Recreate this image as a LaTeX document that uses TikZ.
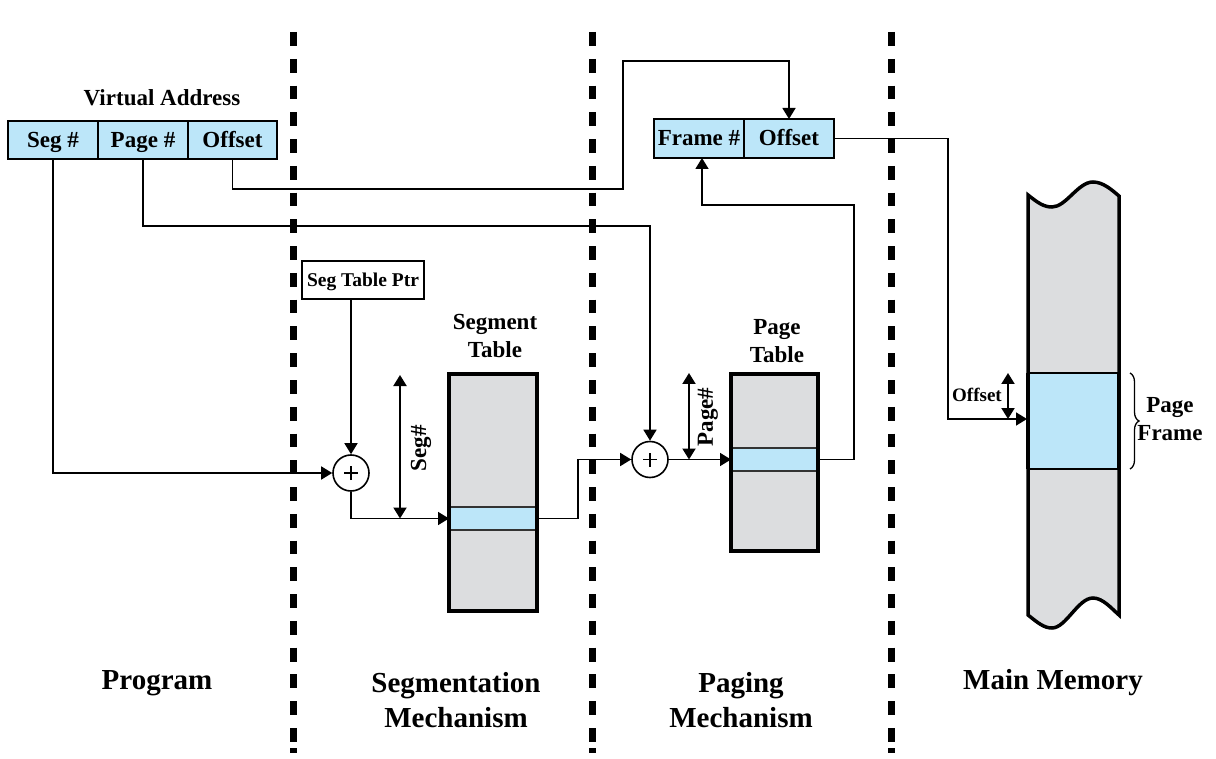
\documentclass[tikz,border=0pt]{standalone}
\usepackage{fontspec}
\setmainfont{Liberation Serif}
\usetikzlibrary{arrows.meta,decorations.pathreplacing,calc}
\definecolor{lblue}{RGB}{188,230,249}
\definecolor{lgrey}{RGB}{220,221,223}
\begin{document}
\begin{tikzpicture}[x=1pt,y=-1pt,
  fld/.style={draw, line width=1.5pt, fill=lblue, minimum height=38pt, inner sep=0pt, outer sep=0pt, text height=20pt, text depth=5pt, font=\fontsize{23}{27}\selectfont\bfseries},
  tab/.style={fill=lgrey, inner sep=0pt, outer sep=0pt},
  rowbox/.style={draw=black!80, line width=1.5pt, fill=lblue, inner sep=0pt, outer sep=0pt},
  lbl/.style={font=\fontsize{23}{28}\selectfont\bfseries, align=center, inner sep=0pt},
  small/.style={font=\fontsize{19}{22}\selectfont\bfseries, inner sep=0pt},
  big/.style={font=\fontsize{29}{35}\selectfont\bfseries, align=center, inner sep=0pt},
  conn/.style={line width=1.6pt},
  arr/.style={conn, -{Triangle[length=11pt,width=13pt]}},
  dbl/.style={line width=2pt, {Triangle[length=11pt,width=13pt]}-{Triangle[length=11pt,width=13pt]}},
  sep/.style={line width=7pt, dash pattern=on 13.8pt off 12.97pt},
  adder/.style={circle, draw, line width=1.6pt, minimum size=36pt, inner sep=0pt, fill=white,
    path picture={\draw[line width=1.6pt] ([xshift=-7pt]path picture bounding box.center) -- ([xshift=7pt]path picture bounding box.center);
                  \draw[line width=1.6pt] ([yshift=-7pt]path picture bounding box.center) -- ([yshift=7pt]path picture bounding box.center);}}
]
\useasboundingbox (0,0) rectangle (1216,759);

% separators
\foreach \x/\n in {293/1,592/2,891/3}{
  \coordinate (d\n a) at (\x,32); \coordinate (d\n b) at (\x,742);
  \coordinate (d\n c) at (\x,748); \coordinate (d\n d) at (\x,752.5);
  \draw[sep] (d\n a) -- (d\n b);
  \draw[line width=7pt] (d\n c) -- (d\n d);
}

% virtual address
\node[lbl] (vatitle) at (162,98) {Virtual Address};
\node[fld, minimum width=90pt] (seg) at (53,140) {Seg \#};
\node[fld, minimum width=90pt] (page) at (143,140) {Page \#};
\node[fld, minimum width=89pt] (offset) at (232.5,140) {Offset};

% physical address
\node[fld, minimum width=90pt, minimum height=39pt] (frame) at (699,138.5) {Frame \#};
\node[fld, minimum width=90pt, minimum height=39pt] (foff) at (789,138.5) {Offset};

% seg table ptr
\node[draw, line width=1.5pt, fill=white, minimum width=122pt, minimum height=38pt, inner sep=0pt,
      text height=17.5pt, text depth=4.5pt,
      font=\fontsize{19.5}{22}\selectfont\bfseries] (stp) at (363,280) {Seg Table Ptr};

% adders
\node[adder] (plus1) at (351,473) {};
\node[adder] (plus2) at (650,459.5) {};

% segment table
\node[lbl] (segtitle) at (495,336) {Segment\\Table};
\node[tab, minimum width=88pt, minimum height=237pt] (segtab) at (493,492.5) {};
\node[rowbox, minimum width=88pt, minimum height=23pt] (segrow) at (493,518.5) {};
\draw[line width=4pt] (segtab.north west) rectangle (segtab.south east);

% page table
\node[lbl] (pagetitle) at (777,341) {Page\\Table};
\node[tab, minimum width=87pt, minimum height=177pt] (pagetab) at (774.5,462.5) {};
\node[rowbox, minimum width=87pt, minimum height=23pt] (pagerow) at (774.5,459.5) {};
\draw[line width=4pt] (pagetab.north west) rectangle (pagetab.south east);

% main memory
\draw[fill=lgrey, line width=3.5pt]
  (1028,195) .. controls (1038,203) and (1044,207) .. (1052,207)
  .. controls (1066,207) and (1078,182) .. (1093,182)
  .. controls (1103,182) and (1112,190) .. (1119,196)
  -- (1119,615)
  .. controls (1112,609) and (1103,598) .. (1093,598)
  .. controls (1078,598) and (1066,628) .. (1052,628)
  .. controls (1044,628) and (1038,623) .. (1028,615) -- cycle;
\node[draw, line width=2.5pt, fill=lblue, minimum width=91pt, minimum height=96pt, inner sep=0pt] (pframe) at (1073.5,421) {};
\draw[line width=3.5pt] (1028,373) -- (1028,469) (1119,373) -- (1119,469);
\coordinate (memL) at (1027,419);

% connectors
\draw[arr] (seg.south) |- (plus1.west);
\draw[arr] (stp.south -| plus1) -- (plus1.north);
\draw[arr] (plus1.south) |- (segrow.west);
\coordinate (sA) at (400,375); \coordinate (sB) at (400,518.5);
\draw[dbl] (sA) -- (sB);
\node[lbl, rotate=90] (seglbl) at (421,448) {Seg\#};

\draw[arr] (segrow.east) -- ++(41,0) |- (plus2.west);

\coordinate (pgY) at (0,226);
\draw[arr] (page.south) |- (pgY -| plus2) -- (plus2.north);
\draw[arr] (plus2.east) -- (pagerow.west);
\coordinate (pA) at (689,373); \coordinate (pB) at (689,459.5);
\draw[dbl] (pA) -- (pB);
\node[lbl, rotate=90] (pagelbl) at (708,417) {Page\#};

\coordinate (fY) at (0,205);
\coordinate (fIn) at (702,158);
\draw[arr] (pagerow.east) -- ++(36,0) |- (fIn |- fY) -- (fIn);

\coordinate (oY) at (0,189); \coordinate (tY) at (0,61); \coordinate (oX) at (623,0);
\draw[arr] (offset.south) |- (oX |- oY) |- (foff.north |- tY) -- (foff.north);

\coordinate (mX) at (948,0);
\draw[arr] (foff.east) -| (mX |- memL) -- (memL);
\coordinate (mA) at (1008,373); \coordinate (mB) at (1008,419);
\draw[dbl] (mA) -- (mB);
\node[small] (offlbl) at (977,395) {Offset};

\coordinate (brA) at (1130,373); \coordinate (brB) at (1130,469);
\draw[decorate, decoration={brace, amplitude=9pt}, line width=1.3pt] (brA) -- (brB);
\node[lbl] (pflbl) at (1170,419) {Page\\Frame};

% bottom labels
\node[big] (l1) at (157,683) {Program};
\node[big] (l2) at (456,700) {Segmentation\\Mechanism};
\node[big] (l3) at (741,700) {Paging\\Mechanism};
\node[big] (l4) at (1053,683) {Main Memory};
\end{tikzpicture}
\end{document}
